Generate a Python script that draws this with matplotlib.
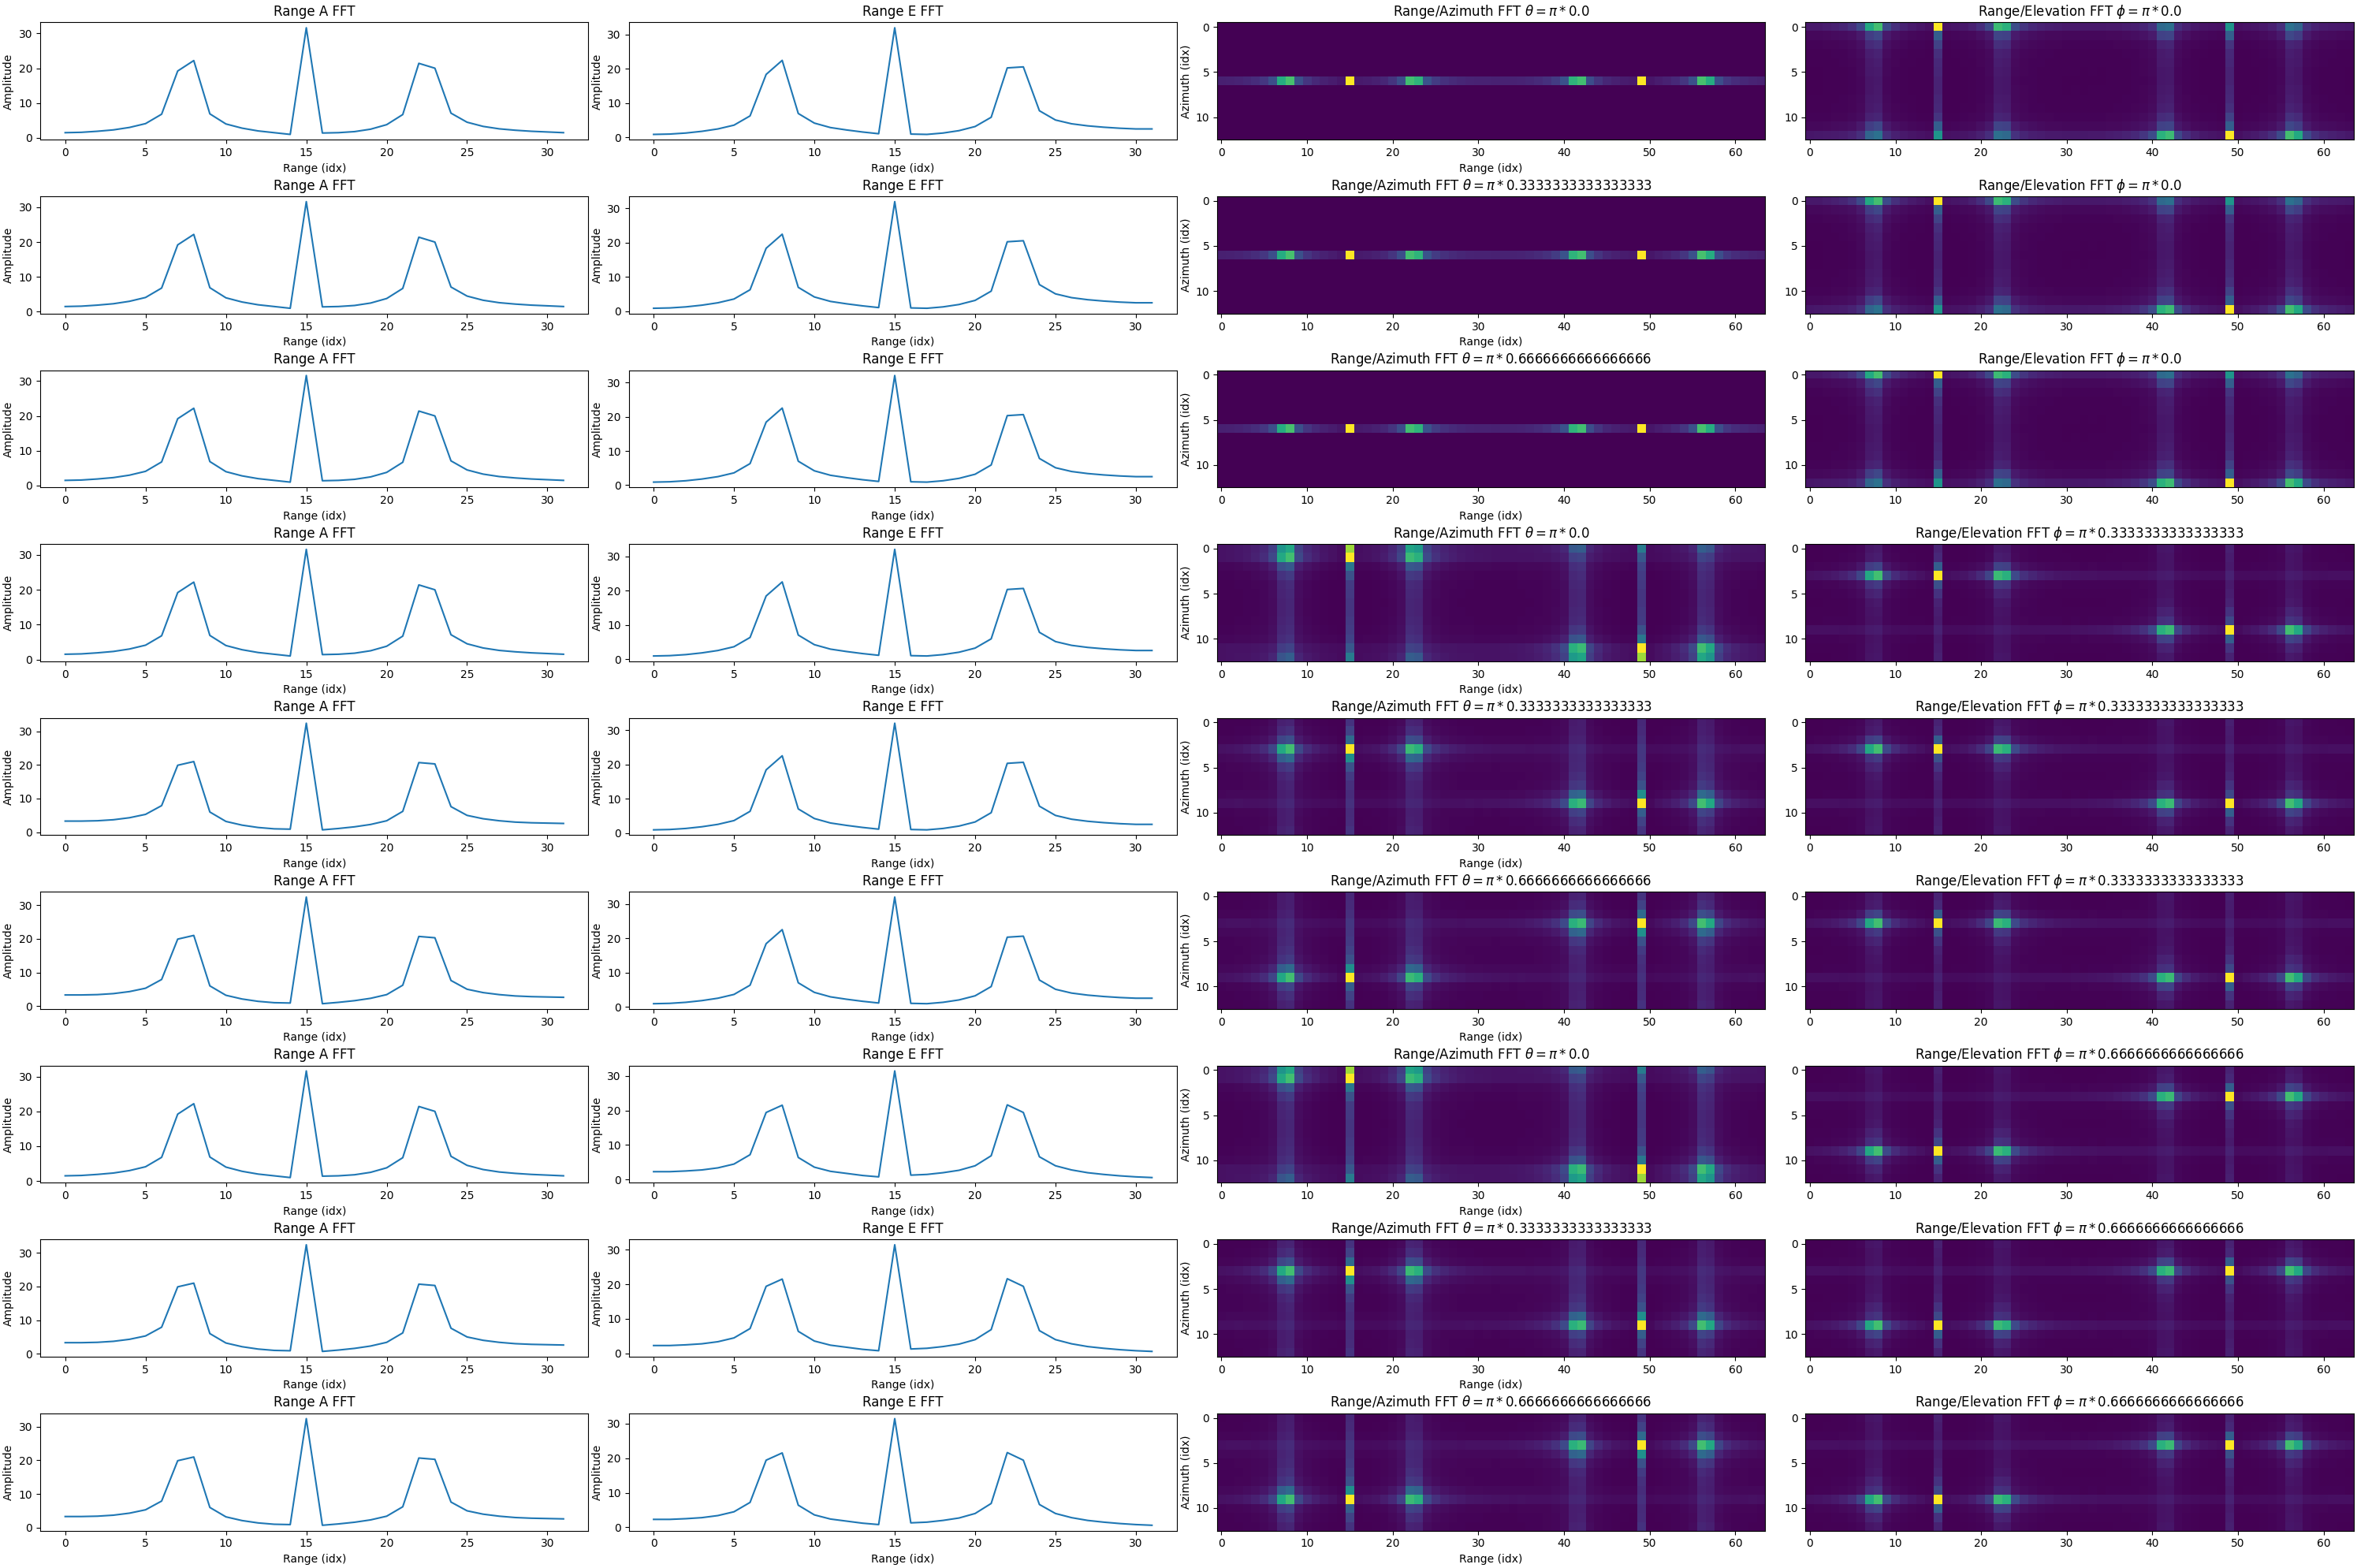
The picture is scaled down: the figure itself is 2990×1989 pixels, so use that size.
import numpy as np
import matplotlib.pyplot as plt

# 1D range FFT magnitudes (32 bins)
range_a_low = [1.5, 1.6, 1.9, 2.3, 3.0, 4.1, 6.8, 19.2, 22.2, 6.9, 4.0, 2.8, 2.0, 1.5, 1.0, 31.6,
               1.4, 1.5, 1.8, 2.5, 3.8, 6.7, 21.4, 20.0, 7.1, 4.5, 3.3, 2.6, 2.2, 1.9, 1.7, 1.5]
range_a_high = [3.3, 3.3, 3.4, 3.7, 4.3, 5.3, 7.9, 19.9, 21.0, 6.0, 3.2, 2.1, 1.4, 1.0, 0.9, 32.4,
                0.7, 1.1, 1.6, 2.3, 3.4, 6.2, 20.7, 20.3, 7.6, 5.0, 4.0, 3.4, 3.0, 2.8, 2.7, 2.6]
range_e_rise = [0.9, 1.0, 1.3, 1.8, 2.5, 3.6, 6.3, 18.4, 22.5, 7.0, 4.2, 2.9, 2.2, 1.6, 1.1, 32.0,
                1.0, 0.9, 1.3, 2.0, 3.2, 5.9, 20.3, 20.6, 7.8, 5.1, 4.0, 3.4, 3.0, 2.7, 2.5, 2.5]
range_e_fall = [2.3, 2.3, 2.5, 2.8, 3.4, 4.5, 7.2, 19.4, 21.5, 6.4, 3.6, 2.4, 1.8, 1.2, 0.8, 31.4,
                1.3, 1.5, 2.0, 2.7, 4.0, 6.9, 21.6, 19.4, 6.6, 4.0, 2.8, 2.0, 1.5, 1.1, 0.8, 0.6]

rows_range_a = [range_a_low, range_a_low, range_a_low, range_a_low, range_a_high,
                range_a_high, range_a_low, range_a_high, range_a_high]
rows_range_e = [range_e_rise] * 6 + [range_e_fall] * 3

# 2D maps: range spectra (64 bins) of the near / mirrored target
range_left = [1.5, 1.6, 1.9, 2.3, 2.9, 4.0, 6.7, 19.0, 22.0, 6.9, 4.0, 2.8, 2.0, 1.5, 1.0, 31.5,
              1.3, 1.5, 1.8, 2.5, 3.8, 6.6, 21.5, 20.0, 7.0, 4.5, 3.3, 2.6, 2.2, 1.9, 1.7, 1.6,
              1.5, 1.5, 1.4, 1.4, 1.3, 1.3, 1.2, 1.2, 1.2, 1.1, 1.1, 1.1, 1.1, 1.0, 1.0, 1.0,
              1.0, 1.0, 1.0, 1.0, 1.0, 1.0, 1.0, 1.0, 1.1, 1.1, 1.1, 1.2, 1.2, 1.3, 1.4, 1.4]
range_right = [1.4, 1.4, 1.4, 1.3, 1.2, 1.2, 1.1, 1.1, 1.1, 1.0, 1.0, 1.0, 1.0, 1.0, 1.0, 1.0,
               1.0, 1.0, 1.0, 1.0, 1.1, 1.1, 1.1, 1.1, 1.2, 1.2, 1.2, 1.3, 1.3, 1.4, 1.4, 1.5,
               1.5, 1.6, 1.7, 1.9, 2.2, 2.6, 3.3, 4.5, 7.0, 20.0, 21.5, 6.6, 3.8, 2.5, 1.8, 1.5,
               1.3, 31.5, 1.0, 1.5, 2.0, 2.8, 4.0, 6.9, 22.0, 19.0, 6.7, 4.0, 2.9, 2.3, 1.9, 1.6]

# angle-bin profiles (13 bins), relative strength
az_row6 = [0, 0, 0, 0, 0, 0, 1, 0, 0, 0, 0, 0, 0]
az_top0 = [1.0, 0.3, 0.2, 0.14, 0.12, 0.11, 0.1, 0.1, 0.11, 0.12, 0.15, 0.3, 0.5]
az_bot12 = [0.5, 0.3, 0.15, 0.12, 0.11, 0.1, 0.1, 0.11, 0.12, 0.14, 0.2, 0.3, 1.0]
az_top01 = [0.85, 1.0, 0.4, 0.25, 0.18, 0.17, 0.16, 0.16, 0.17, 0.18, 0.2, 0.25, 0.4]
az_bot1112 = [0.4, 0.25, 0.2, 0.18, 0.17, 0.16, 0.16, 0.17, 0.18, 0.25, 0.4, 1.0, 0.85]
az_peak3 = [0.15, 0.2, 0.35, 1.0, 0.5, 0.25, 0.17, 0.14, 0.12, 0.12, 0.12, 0.13, 0.15]
az_peak9 = [0.12, 0.12, 0.13, 0.14, 0.15, 0.17, 0.2, 0.25, 0.5, 1.0, 0.3, 0.2, 0.15]
el_peak3 = [0.1, 0.12, 0.3, 1.0, 0.25, 0.15, 0.1, 0.08, 0.07, 0.07, 0.07, 0.08, 0.09]
el_peak9 = [0.09, 0.08, 0.07, 0.07, 0.07, 0.08, 0.1, 0.15, 0.22, 1.0, 0.3, 0.15, 0.1]

rows_azimuth = [(az_row6, az_row6), (az_row6, az_row6), (az_row6, az_row6),
                (az_top01, az_bot1112), (az_peak3, az_peak9), (az_peak9, az_peak3),
                (az_top01, az_bot1112), (az_peak3, az_peak9), (az_peak9, az_peak3)]
rows_elevation = [(az_top0, az_bot12)] * 3 + [(el_peak3, el_peak9)] * 3 + [(el_peak9, el_peak3)] * 3

theta_txt = ["0.0", "0.3333333333333333", "0.6666666666666666"] * 3
phi_txt = ["0.0"] * 3 + ["0.3333333333333333"] * 3 + ["0.6666666666666666"] * 3


def range_map(profiles):
    left, right = profiles
    return np.outer(left, range_left) + np.outer(right, range_right)


fig, axes = plt.subplots(9, 4, figsize=(29.9, 19.89))

for i in range(9):
    ax = axes[i, 0]
    ax.plot(rows_range_a[i])
    ax.set_title("Range A FFT")
    ax.set_xlabel("Range (idx)")
    ax.set_ylabel("Amplitude")

    ax = axes[i, 1]
    ax.plot(rows_range_e[i])
    ax.set_title("Range E FFT")
    ax.set_xlabel("Range (idx)")
    ax.set_ylabel("Amplitude")

    ax = axes[i, 2]
    ax.imshow(range_map(rows_azimuth[i]), aspect="auto")
    ax.set_title(rf"Range/Azimuth FFT $\theta = \pi * {theta_txt[i]}$")
    ax.set_xlabel("Range (idx)")
    ax.set_ylabel("Azimuth (idx)")

    ax = axes[i, 3]
    ax.imshow(range_map(rows_elevation[i]), aspect="auto")
    ax.set_title(rf"Range/Elevation FFT $\phi = \pi * {phi_txt[i]}$")

fig.tight_layout(pad=0.3)
fig.savefig("out.png", dpi=100)
